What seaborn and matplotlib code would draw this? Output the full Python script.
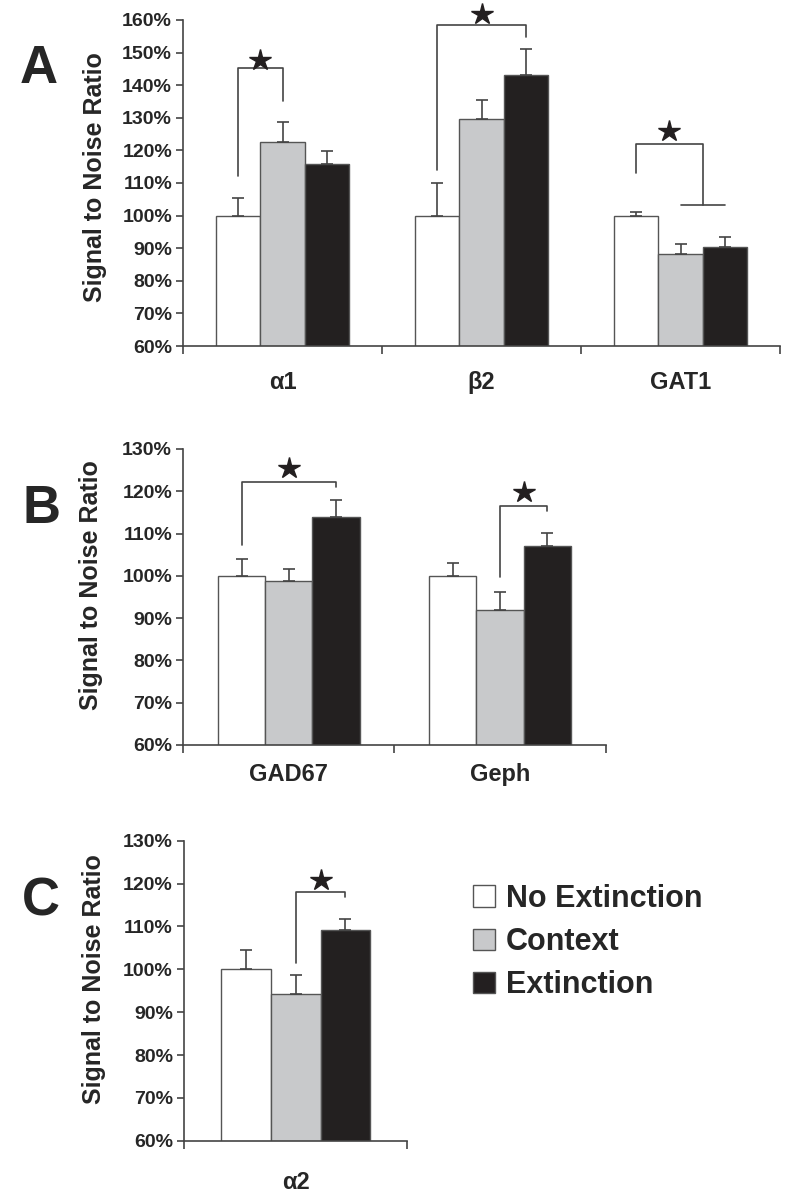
import numpy as np
import pandas as pd
import matplotlib
matplotlib.use("Agg")
import matplotlib.pyplot as plt
import seaborn as sns
from matplotlib.patches import Patch

# ==============================
# Datos
# ==============================
conditions = ["No Extinction", "Context", "Extinction"]
bar_colors = ["#ffffff", "#c8c9cb", "#231f20"]

genes_A = ["α1", "β2", "GAT1"]
vals_A = [[100, 122.5, 115.9], [100, 129.6, 143.0], [100, 88.2, 90.5]]
errs_A = [[5.4, 6.3, 3.8], [9.9, 5.8, 8.2], [1.1, 3.0, 2.8]]

genes_B = ["GAD67", "Geph"]
vals_B = [[100, 98.8, 113.8], [100, 91.9, 107.0]]
errs_B = [[4.1, 2.7, 4.1], [3.0, 4.2, 3.2]]

genes_C = ["α2"]
vals_C = [[100, 94.2, 109.2]]
errs_C = [[4.6, 4.5, 2.5]]

# brackets: (gene idx, left hue, right hue, left leg bottom, top, right leg bottom, star y)
brackets_A = [(0, 0, 1, 112.0, 145.2, 135.2, 147.7),
              (1, 0, 2, 114.0, 158.5, 154.9, 161.8)]
# GAT1: white vs (context + extinction)
bracket_gat1 = (2, 113.0, 122.0, 103.2, 126.0)
brackets_B = [(0, 0, 2, 107.4, 122.1, 120.9, 125.4),
              (1, 1, 2, 99.8, 116.6, 115.3, 119.9)]
brackets_C = [(0, 1, 2, 101.4, 118.1, 116.9, 120.8)]

line_col = "#444444"

sns.set_style("ticks")
plt.rcParams["font.family"] = ["Liberation Sans", "DejaVu Sans"]
plt.rcParams["font.weight"] = "bold"

fig = plt.figure(figsize=(8, 11.96), dpi=100)
ax_A = fig.add_axes([0.229, 0.7107, 0.746, 0.2726])
ax_B = fig.add_axes([0.229, 0.3771, 0.528, 0.2475])
ax_C = fig.add_axes([0.230, 0.0462, 0.279, 0.2508])

bar_sets = {}


def draw_panel(ax, genes, vals, errs, ylim, xpad):
    rows = []
    for g, vv in zip(genes, vals):
        for c, v in zip(conditions, vv):
            rows.append({"gene": g, "condition": c, "value": v})
    df = pd.DataFrame(rows)
    sns.barplot(data=df, x="gene", y="value", hue="condition", order=genes,
                hue_order=conditions, palette=bar_colors, width=0.67, gap=0,
                edgecolor="#555555", linewidth=1.0, errorbar=None,
                legend=False, ax=ax)
    conts = list(ax.containers)
    bar_sets[ax] = conts
    # barras de error (solo hacia arriba)
    for h, cont in enumerate(conts):
        for g, bar in enumerate(cont):
            xc = bar.get_x() + bar.get_width() / 2
            ax.errorbar(xc, vals[g][h], yerr=[[0], [errs[g][h]]], fmt="none",
                        ecolor=line_col, elinewidth=1.2, capsize=4, capthick=1.2)
    n = len(genes)
    ax.set_xlim(-0.5, n - 0.5)
    ax.set_ylim(*ylim)
    ax.set_yticks(np.arange(ylim[0], ylim[1] + 1, 10))
    ax.set_yticklabels([f"{int(v)}%" for v in np.arange(ylim[0], ylim[1] + 1, 10)])
    ax.set_xticks(range(n))
    ax.set_xticklabels(genes)
    ax.set_xticks(np.arange(-0.5, n, 1.0), minor=True)
    ax.tick_params(axis="x", which="major", length=0, pad=xpad, labelsize=17)
    ax.tick_params(axis="x", which="minor", length=6, width=1.2, color=line_col)
    ax.tick_params(axis="y", length=5, width=1.2, color=line_col, pad=3, labelsize=14)
    for lab in ax.get_xticklabels() + ax.get_yticklabels():
        lab.set_fontweight("bold")
    sns.despine(ax=ax)
    for s in ["left", "bottom"]:
        ax.spines[s].set_color(line_col)
        ax.spines[s].set_linewidth(1.2)
    ax.set_xlabel("")
    ax.set_ylabel("Signal to Noise Ratio", fontsize=18, fontweight="bold")


def bar_x(ax, g, h):
    bar = bar_sets[ax][h][g]
    return bar.get_x() + bar.get_width() / 2


def draw_brackets(ax, brackets):
    for g, h1, h2, yl, yt, yr, ys in brackets:
        x1, x2 = bar_x(ax, g, h1), bar_x(ax, g, h2)
        ax.plot([x1, x1, x2, x2], [yl, yt, yt, yr], color=line_col, lw=1.2,
                clip_on=False)
        ax.plot([(x1 + x2) / 2], [ys], marker="*", ms=16, color="#231f20",
                clip_on=False)


draw_panel(ax_A, genes_A, vals_A, errs_A, (60, 160), 18)
draw_panel(ax_B, genes_B, vals_B, errs_B, (60, 130), 13)
draw_panel(ax_C, genes_C, vals_C, errs_C, (60, 130), 22)

draw_brackets(ax_A, brackets_A)
g, yl, yt, yb, ys = bracket_gat1
x0 = bar_x(ax_A, g, 0)
x1, x2 = bar_x(ax_A, g, 1), bar_x(ax_A, g, 2)
xm = (x1 + x2) / 2
ax_A.plot([x0, x0, xm, xm], [yl, yt, yt, yb], color=line_col, lw=1.2)
ax_A.plot([x1, x2], [yb, yb], color=line_col, lw=1.2)
ax_A.plot([(x0 + xm) / 2], [ys], marker="*", ms=16, color="#231f20")
draw_brackets(ax_B, brackets_B)
draw_brackets(ax_C, brackets_C)

ax_A.yaxis.set_label_coords(-0.127, 0.517)
ax_B.yaxis.set_label_coords(-0.189, 0.54)
ax_C.yaxis.set_label_coords(-0.349, 0.54)

# letras de panel
fig.text(20 / 800, 1 - 83 / 1196, "A", fontsize=38, fontweight="bold", va="baseline")
fig.text(22 / 800, 1 - 523 / 1196, "B", fontsize=38, fontweight="bold", va="baseline")
fig.text(22 / 800, 1 - 915 / 1196, "C", fontsize=38, fontweight="bold", va="baseline")

handles = [Patch(facecolor=c, edgecolor="#555555", linewidth=1.0) for c in bar_colors]
fig.legend(handles, conditions, loc="upper left", bbox_to_anchor=(473 / 800, 1 - 884 / 1196),
           frameon=False, borderpad=0, borderaxespad=0, handlelength=0.72,
           handleheight=0.72, handletextpad=0.35, labelspacing=0.43,
           prop={"size": 22, "weight": "bold"})

fig.savefig("out.png", dpi=100)
